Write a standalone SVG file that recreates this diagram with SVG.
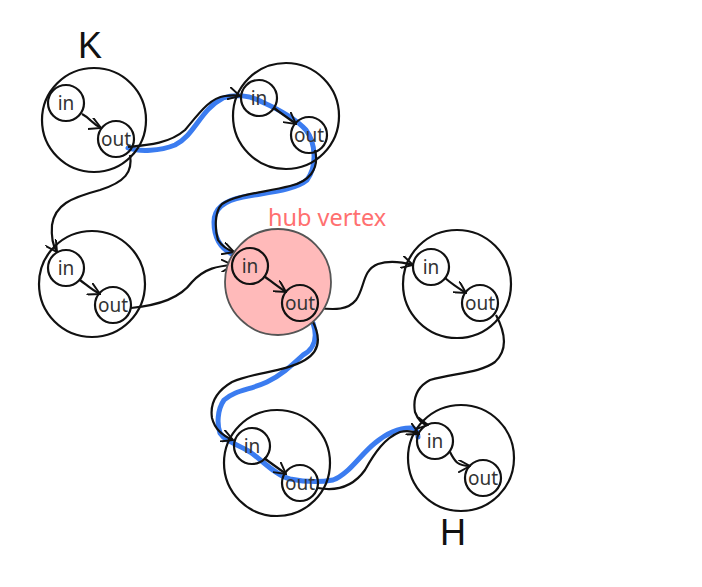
<svg xmlns="http://www.w3.org/2000/svg" width="702" height="587" viewBox="0 0 702 587">
<defs>
<marker id="arr" viewBox="0 0 12 12" refX="11" refY="6" markerWidth="13" markerHeight="13" markerUnits="userSpaceOnUse" orient="auto">
<path d="M0,0 L11,6 L0,12" fill="none" stroke="#111" stroke-width="1.8"/>
</marker>
<style>
.big{fill:none;stroke:#111;stroke-width:2.2}
.hub{fill:#ffbaba;stroke:#555;stroke-width:1.8}
.sm{fill:none;stroke:#111;stroke-width:2.2}
.lb{font-family:"Noto Sans","Open Sans",sans-serif;font-size:19px;fill:#333;text-anchor:middle}
.ttl{font-family:"Liberation Sans",Arial,sans-serif;font-size:36px;fill:#111;text-anchor:middle}
.edge{fill:none;stroke:#111;stroke-width:2.2;marker-end:url(#arr)}
.blue{fill:none;stroke:#3b7cf0;stroke-width:5;stroke-linecap:round;stroke-linejoin:round}
</style>
</defs>
<rect width="702" height="587" fill="#fff"/>

<g id="highlight">
<path class="blue" d="M128,148 C140,152 160,151 175,145 C195,135 200,110 223,98 C235,94 250,95 262,102 C280,110 295,118 306,130 C315,142 318,165 307,180 C295,190 270,192 243,197 C222,201 214,210 214,222 C214,238 220,248 232,254"/>
<path class="blue" d="M313,323 C317,335 316,348 303,355 C290,367 280,376 267,382 C250,390 235,390 224,400 C217,410 217,425 220,433 C226,442 237,444 250,452 C262,460 275,475 290,479 C305,482 322,482 333,480 C348,475 360,455 375,443 C388,432 400,427 413,428 C417,430 418,434 418,437"/>
</g>

<g id="connectors">
<path class="edge" d="M128,147 C150,145 170,143 185,130 C200,112 210,98 225,96 C232,95 236,95 240,96"/>
<path class="edge" d="M130,155 C133,172 125,182 100,190 C70,198 55,205 52,225 C51,238 53,246 57,252"/>
<path class="edge" d="M315,150 C320,170 308,182 290,186 C260,193 235,195 222,204 C214,212 215,230 218,240 C222,246 228,250 234,252"/>
<path class="edge" d="M131,308 C160,305 180,298 192,282 C205,268 218,266 233,265"/>
<path class="edge" d="M318,308 C335,310 348,310 356,300 C365,288 362,270 378,264 C390,260 402,262 413,265"/>
<path class="edge" d="M312,320 C320,335 322,350 305,360 C285,372 255,372 232,382 C215,392 210,405 212,418 C215,430 223,436 233,440"/>
<path class="edge" d="M496,315 C505,332 508,350 495,362 C480,373 455,373 430,380 C415,388 413,400 415,412 C418,420 422,424 428,425"/>
<path class="edge" d="M318,488 C340,492 355,484 365,470 C375,452 385,438 400,432 C408,430 415,432 419,434"/>
</g>

<g id="node-K">
<circle class="big" cx="94" cy="120" r="52"/>
<circle class="sm" cx="66" cy="103" r="18"/>
<circle class="sm" cx="116" cy="139" r="18"/>
<path class="edge" d="M82,114 C90,118 92,124 101,128"/>
<text class="lb" x="66" y="110">in</text>
<text class="lb" x="116" y="146">out</text>
<text class="ttl" x="90" y="58">K</text>
</g>

<g id="node-top">
<circle class="big" cx="286" cy="116" r="53"/>
<circle class="sm" cx="259" cy="98" r="18"/>
<circle class="sm" cx="309" cy="135" r="18"/>
<path class="edge" d="M274,108 C282,114 288,118 296,124"/>
<text class="lb" x="259" y="105">in</text>
<text class="lb" x="309" y="142">out</text>
</g>

<g id="node-midleft">
<circle class="big" cx="92" cy="284" r="53"/>
<circle class="sm" cx="66" cy="268" r="18"/>
<circle class="sm" cx="113" cy="305" r="18"/>
<path class="edge" d="M80,280 C88,286 92,290 100,294"/>
<text class="lb" x="66" y="275">in</text>
<text class="lb" x="113" y="312">out</text>
</g>

<g id="node-hub">
<circle class="hub" cx="278" cy="282" r="53"/>
<circle class="sm" cx="250" cy="266" r="18"/>
<circle class="sm" cx="300" cy="303" r="18"/>
<path class="edge" d="M264,276 C272,282 278,287 286,292"/>
<text class="lb" x="250" y="273">in</text>
<text class="lb" x="300" y="310">out</text>
<text x="268" y="226" font-family="'Noto Sans','Open Sans',sans-serif" font-size="23.5" fill="#ff7070">hub vertex</text>
</g>

<g id="node-midright">
<circle class="big" cx="457" cy="284" r="54"/>
<circle class="sm" cx="431" cy="267" r="18"/>
<circle class="sm" cx="480" cy="303" r="18"/>
<path class="edge" d="M445,278 C452,284 458,288 466,293"/>
<text class="lb" x="431" y="274">in</text>
<text class="lb" x="480" y="310">out</text>
</g>

<g id="node-bottom">
<circle class="big" cx="277" cy="463" r="53"/>
<circle class="sm" cx="252" cy="446" r="18"/>
<circle class="sm" cx="300" cy="483" r="18"/>
<path class="edge" d="M264,458 C272,464 278,468 286,474"/>
<text class="lb" x="252" y="453">in</text>
<text class="lb" x="300" y="490">out</text>
</g>

<g id="node-H">
<circle class="big" cx="461" cy="458" r="53"/>
<circle class="sm" cx="435" cy="441" r="18"/>
<circle class="sm" cx="483" cy="478" r="18"/>
<path class="edge" d="M450,452 C455,462 458,466 470,466"/>
<text class="lb" x="435" y="448">in</text>
<text class="lb" x="483" y="485">out</text>
<text class="ttl" x="453" y="545">H</text>
</g>
</svg>
